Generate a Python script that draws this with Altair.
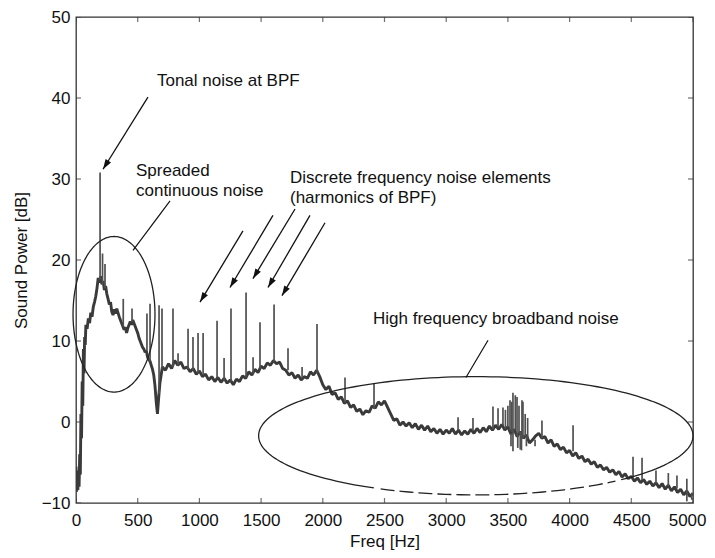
import math
import altair as alt
import pandas as pd

# ---------------- data ----------------
# continuous spectrum (Hz, dB)
freq = [0, 5, 10, 15, 20, 25, 30, 35, 40, 45, 50, 55, 60, 65, 70, 75, 80, 90,
        100, 110, 120, 130, 140, 150, 160, 170, 180, 190, 200, 210, 220, 230,
        240, 250, 260, 270, 280, 290, 300, 310, 320, 330, 340, 350, 360, 370,
        380, 390, 400, 410, 420, 430, 440, 450, 460, 470, 480, 490, 500, 510,
        520, 530, 540, 550, 560, 570, 580, 590, 600, 610, 620, 630, 640, 650,
        660, 670, 680, 690, 700,
        725, 750, 775, 800, 825, 850, 875, 900, 925, 950, 975, 1000, 1025,
        1050, 1075, 1100, 1125, 1150, 1175, 1200, 1225, 1250, 1275, 1300, 1325,
        1350, 1375, 1400, 1425, 1450, 1475, 1500, 1525, 1550, 1575, 1600, 1625,
        1650, 1675, 1700, 1725, 1750, 1775, 1800, 1825, 1850, 1875, 1900, 1925,
        1950, 1975, 2000, 2025, 2050, 2075, 2100, 2125, 2150, 2175, 2200, 2225,
        2250, 2275, 2300, 2325, 2350, 2375, 2400, 2425, 2450, 2475, 2500, 2525,
        2550, 2575, 2600, 2625, 2650, 2675, 2700, 2725, 2750, 2775, 2800, 2825,
        2850, 2875, 2900, 2925, 2950, 2975, 3000, 3025, 3050, 3075, 3100, 3125,
        3150, 3175, 3200, 3225, 3250, 3275, 3300, 3325, 3350, 3375, 3400, 3425,
        3450, 3475, 3500, 3525, 3550, 3575, 3600, 3625, 3650, 3675, 3700, 3725,
        3750, 3775, 3800, 3825, 3850, 3875, 3900, 3925, 3950, 3975, 4000, 4025,
        4050, 4075, 4100, 4125, 4150, 4175, 4200, 4225, 4250, 4275, 4300, 4325,
        4350, 4375, 4400, 4425, 4450, 4475, 4500, 4525, 4550, 4575, 4600, 4625,
        4650, 4675, 4700, 4725, 4750, 4775, 4800, 4825, 4850, 4875, 4900, 4925,
        4950, 4975, 5000]
level = [-5.5, -8.6, -7.2, -8.4, -6.0, -8.0, -4.0, -6.5, 1.0, -2.0, 5.0, 2.0,
         9.0, 6.0, 10.5, 9.5, 12.0, 11.5,
         12.8, 12.2, 13.5, 13.0, 14.2, 14.8, 15.5, 16.5, 17.8, 17.2, 18.0, 17.0,
         17.4, 16.3, 16.8, 15.8, 15.2, 14.5, 14.8, 13.6, 13.2, 13.9, 13.4, 14.0,
         13.5, 13.0, 12.6, 12.2, 11.8, 11.4, 11.7, 11.0, 11.6, 12.0, 12.4, 12.0,
         12.6, 12.2, 11.8, 11.4, 11.0, 10.4, 10.0, 9.6, 9.2, 9.0, 8.6, 8.8, 8.0,
         7.7, 7.5, 7.0, 6.5, 5.8, 4.5, 2.5, 1.0, 3.0, 4.8, 5.8, 6.8,
         6.4, 7.2, 6.6, 7.6, 7.0, 7.4, 6.6, 6.8, 6.2, 6.6, 5.9, 6.3, 5.6,
         5.9, 5.2, 5.6, 5.0, 5.5, 4.9, 5.4, 4.8, 5.2, 4.6, 5.3, 5.0,
         5.7, 5.4, 6.2, 5.8, 6.5, 6.1, 6.9, 6.6, 7.3, 7.0, 7.6, 7.2,
         7.4, 6.6, 6.4, 5.8, 6.1, 5.4, 5.8, 5.2, 5.6, 5.4, 6.2, 5.8,
         6.4, 5.6, 4.6, 4.0, 4.4, 3.4, 3.6, 2.8, 3.1, 2.3, 2.6, 1.8,
         2.1, 1.3, 1.6, 0.9, 1.4, 1.2, 2.0, 1.7, 2.5, 2.1, 2.6, 1.8,
         1.0, 0.2, 0.4, -0.4, 0.0, -0.5, -0.1, -0.7, -0.2, -0.9, -0.4, -1.0,
         -0.5, -1.2, -0.8, -1.4, -0.9, -1.5, -1.0, -1.4, -0.8, -1.5, -1.0, -1.6,
         -1.1, -1.5, -0.9, -1.4, -0.8, -1.3, -0.7, -1.2, -0.5, -1.0, -0.4, -0.9,
         -0.3, -1.0, -0.6, -1.5, -0.9, -1.8, -1.2, -2.0, -1.6, -2.6, -2.2, -1.7,
         -1.4, -2.0, -1.8, -2.6, -2.2, -3.0, -2.7, -3.4, -3.1, -3.8, -3.5, -4.2,
         -3.8, -4.5, -4.2, -4.9, -4.6, -5.2, -4.9, -5.6, -5.3, -5.9, -5.6, -6.2,
         -5.9, -6.5, -6.1, -6.8, -6.4, -7.0, -6.7, -7.3, -6.9, -7.5, -7.1, -7.7,
         -7.3, -7.9, -7.5, -8.1, -7.6, -8.3, -7.8, -8.5, -8.0, -8.7, -8.3, -9.0,
         -8.5, -9.2, -8.8]

# narrow spectral lines (Hz, bottom dB, top dB)
spike_freq = [195, 215, 235, 383, 454, 575, 600, 673, 697, 786, 827, 908, 948,
              989, 1030, 1143, 1200, 1256, 1378, 1435, 1491, 1605, 1718, 1832,
              1953, 2180, 2415, 3096, 3217, 3379, 3420, 3460, 3480, 3500, 3517,
              3530, 3541, 3560, 3574, 3590, 3614, 3622, 3640, 3660, 3776, 4028,
              4514, 4587, 4700, 4800, 4870, 4950,
              3525, 3541, 3580, 3600, 3610, 3650, 3720, 4950, 4990]
spike_low = [17.5, 17.0, 16.5, 11.8, 12.3, 8.8, 7.5, 3.5, 6.5, 6.8, 7.0, 6.5,
             6.4, 6.0, 5.8, 5.5, 5.1, 5.0, 5.5, 6.0, 6.6, 7.4, 6.4, 5.4,
             6.0, 2.4, 1.6, -1.0, -1.1, -0.9, -0.6, -0.4, -0.8, -0.6, -1.0,
             -1.2, -1.2, -1.0, -1.7, -1.4, -1.5, -2.0, -1.8, -2.0, -2.0, -3.6,
             -6.8, -7.2, -7.6, -7.9, -8.2, -8.6,
             -1.4, -1.0, -1.6, -1.2, -1.5, -1.8, -2.2, -8.4, -8.8]
spike_high = [30.8, 20.8, 19.5, 15.2, 14.0, 13.4, 14.6, 14.4, 14.0, 14.0, 8.5,
              11.5, 10.5, 11.0, 11.0, 12.5, 7.9, 14.0, 16.0, 8.0, 12.3, 14.5,
              9.1, 6.8, 12.1, 5.5, 4.8, 0.6, 0.5, 1.9, 1.7, 1.8, 1.5, 2.0, 2.7,
              2.5, 3.6, 3.3, 3.1, 2.0, 2.7, 2.5, 1.0, 0.5, 0.2, -0.4,
              -4.3, -4.4, -6.0, -6.3, -6.6, -7.0,
              -3.0, -3.6, -3.2, -3.4, -3.5, -3.0, -3.0, -9.8, -9.6]

x_ticks = [0, 500, 1000, 1500, 2000, 2500, 3000, 3500, 4000, 4500, 5000]
y_ticks = [-10, 0, 10, 20, 30, 40, 50]

# annotations (data coordinates)
label_text = ["Tonal noise at BPF", "Spreaded", "continuous noise",
              "Discrete frequency noise elements", "(harmonics of BPF)",
              "High frequency broadband noise"]
label_x = [656, 486, 486, 1734, 1734, 2407]
label_y = [42.1, 31.0, 28.5, 30.1, 27.6, 12.7]

arrow_x0 = [583, 1353, 1596, 1775, 1896, 2018]
arrow_y0 = [40.1, 23.6, 25.5, 26.3, 25.5, 24.6]
arrow_x1 = [219, 1005, 1248, 1434, 1556, 1669]
arrow_y1 = [31.2, 14.8, 16.6, 17.7, 16.6, 15.6]

lead_x0 = [762, 3339]
lead_y0 = [27.3, 10.1]
lead_x1 = [462, 3160]
lead_y1 = [21.2, 5.5]

ell_cx = [308, 3240]
ell_cy = [13.3, -1.7]
ell_rx = [332, 1760]
ell_ry = [9.6, 7.3]

# ---------------- chart ----------------
W, H = 617, 486
XD, YD = [0, 5000], [-10, 50]
FONT = "Liberation Sans"
xs = alt.Scale(domain=XD, nice=False, zero=False)
ys = alt.Scale(domain=YD, nice=False, zero=False)
xaxis = alt.Axis(values=x_ticks, ticks=False, domain=False, grid=False,
                 labelFontSize=17, labelPadding=9, labelFlush=False,
                 labelOverlap=False, titleFontSize=17, titlePadding=5,
                 titleFontWeight="normal", format="d", labelColor="#111",
                 titleColor="#111",
                 labelAlign={"condition": {"test": "datum.value == 5000",
                                           "value": "right"},
                             "value": "center"},
                 labelOffset={"condition": {"test": "datum.value == 5000",
                                            "value": 13},
                              "value": 0})
yaxis = alt.Axis(values=y_ticks, ticks=False, domain=False, grid=False,
                 labelFontSize=17, labelPadding=6, labelOverlap=False,
                 labelFlush=False, titleFontSize=17, titlePadding=11,
                 titleFontWeight="normal", format="d", labelColor="#111",
                 titleColor="#111")


def X(f="x"):
    return alt.X(f"{f}:Q", scale=xs, axis=xaxis, title="Freq [Hz]")


def Y(f="y"):
    return alt.Y(f"{f}:Q", scale=ys, axis=yaxis, title="Sound Power [dB]")


spec_df = pd.DataFrame({"x": freq, "y": level, "i": range(len(freq))})
spectrum = alt.Chart(spec_df).mark_line(color="#3a3a3a", strokeWidth=2.9,
                                        strokeJoin="bevel",
                                        clip=True).encode(
    x=X(), y=Y(), order="i:Q")

spk_df = pd.DataFrame({"x": spike_freq, "y": spike_low, "y2": spike_high})
spikes = alt.Chart(spk_df).mark_rule(color="#505050", strokeWidth=1.7,
                                     clip=True).encode(
    x=X(), y=Y(), y2="y2:Q")

# ellipses (outline from centre and radii)
rows = []
for k in range(len(ell_cx)):
    for j in range(181):
        t = 2 * math.pi * j / 180
        ex = ell_cx[k] + ell_rx[k] * math.cos(t)
        ey = ell_cy[k] + ell_ry[k] * math.sin(t)
        px = (ex - XD[0]) / (XD[1] - XD[0]) * W
        dashed = (k == 1 and ey < ell_cy[k] and 380 - 76 < px < 620 - 76)
        rows.append({"x": ex, "y": ey, "e": k, "i": j,
                     "seg": "dash" if dashed else "solid"})
ell_df = pd.DataFrame(rows)
ell_solid = alt.Chart(ell_df).transform_calculate(
    y="datum.seg == 'solid' ? datum.y : null").mark_line(
    color="#222", strokeWidth=1.3, clip=False).encode(
    x=X(), y=Y(), detail="e:N", order="i:Q")
ell_dash = alt.Chart(ell_df[ell_df.seg == "dash"]).mark_line(
    color="#222", strokeWidth=1.3, strokeDash=[14, 5], clip=False).encode(
    x=X(), y=Y(), order="i:Q")

# arrows
arr_rows = []
for a in range(len(arrow_x0)):
    dx = (arrow_x1[a] - arrow_x0[a]) * W / (XD[1] - XD[0])
    dy = -(arrow_y1[a] - arrow_y0[a]) * H / (YD[1] - YD[0])
    ang = math.degrees(math.atan2(dx, -dy)) % 360
    arr_rows.append({"x": arrow_x0[a], "y": arrow_y0[a], "x2": arrow_x1[a],
                     "y2": arrow_y1[a], "ang": ang})
arr_df = pd.DataFrame(arr_rows)
arrow_lines = alt.Chart(arr_df).mark_rule(color="#111", strokeWidth=1.3).encode(
    x=X(), y=Y(), x2="x2:Q", y2="y2:Q")
arrow_heads = alt.Chart(arr_df).mark_point(
    shape="M0,0L-0.32,1L0.32,1Z", filled=True, color="#111", size=400,
    opacity=1).encode(
    x=X("x2"), y=Y("y2"), angle=alt.Angle("ang:Q", scale=None))

lead_df = pd.DataFrame({"x": lead_x0, "y": lead_y0, "x2": lead_x1,
                        "y2": lead_y1})
leads = alt.Chart(lead_df).mark_rule(color="#111", strokeWidth=1.2).encode(
    x=X(), y=Y(), x2="x2:Q", y2="y2:Q")

lab_df = pd.DataFrame({"x": label_x, "y": label_y, "t": label_text})
labels = alt.Chart(lab_df).mark_text(align="left", baseline="middle",
                                     font=FONT, fontSize=17,
                                     color="#111").encode(
    x=X(), y=Y(), text="t:N")

# inward ticks on all four sides
tick_layers = []
for yv in [YD[0], YD[1]]:
    d = pd.DataFrame({"x": x_ticks, "y": [yv] * len(x_ticks)})
    tick_layers.append(alt.Chart(d).mark_tick(
        orient="vertical", size=10, thickness=1.2, color="#333",
        clip=True).encode(x=X(), y=Y()))
for xv in [XD[0], XD[1]]:
    d = pd.DataFrame({"x": [xv] * len(y_ticks), "y": y_ticks})
    tick_layers.append(alt.Chart(d).mark_tick(
        orient="horizontal", size=10, thickness=1.2, color="#333",
        clip=True).encode(x=X(), y=Y()))

chart = alt.layer(
    spectrum, spikes, ell_solid, ell_dash, leads, arrow_lines, arrow_heads,
    labels, *tick_layers
).properties(
    width=W, height=H,
    autosize=alt.AutoSizeParams(type="none"),
    padding={"left": 68, "top": 9, "right": 14, "bottom": 47},
    background="white",
).configure_view(
    stroke="#333", strokeWidth=1.3
).configure_axis(
    labelFont=FONT, titleFont=FONT
)

chart.save("out.html", embed_options={"renderer": "svg", "actions": False})
